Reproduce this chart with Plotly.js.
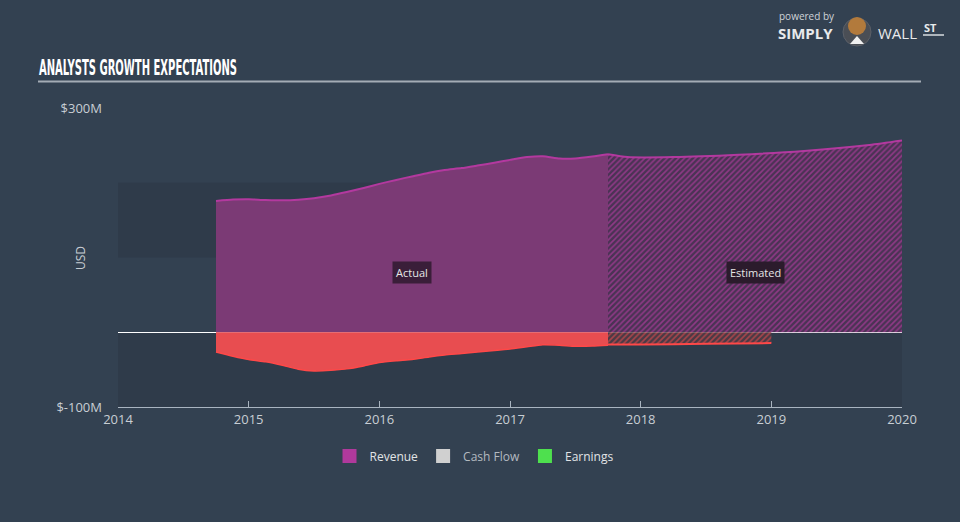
<!DOCTYPE html>
<html>
<head>
<meta charset="utf-8">
<script src="https://cdn.plot.ly/plotly-3.0.1.min.js"></script>
<style>
html,body{margin:0;padding:0;background:#334151;}
#chart{width:960px;height:522px;}
</style>
</head>
<body>
<div id="chart"></div>
<script>
// ---- data ----
var actualYears = [2014.75, 2014.88, 2015.0, 2015.13, 2015.25, 2015.38, 2015.5, 2015.63, 2015.75, 2015.88, 2016.0, 2016.13, 2016.25, 2016.38, 2016.5, 2016.63, 2016.75, 2016.88, 2017.0, 2017.13, 2017.25, 2017.38, 2017.5, 2017.63, 2017.75];
var revenueActual = [175.7, 177.5, 178, 176.8, 176.6, 177.4, 179.3, 183, 187.5, 193, 198.5, 203.8, 208.5, 213.5, 217, 219.6, 223, 226.8, 230.6, 234.3, 235.5, 232.4, 232.5, 235, 238];
var earningsActual = [-26.4, -32, -36.5, -39.5, -43.8, -49.5, -51.8, -51, -49, -45, -40.5, -38, -36.3, -33, -30.5, -28.5, -26.5, -24.5, -22.5, -19.5, -16.8, -17.4, -18.7, -18.5, -17.4];

var estRevenueYears = [2017.75, 2017.9, 2018.25, 2018.75, 2019.25, 2019.75, 2020.0];
var revenueEstimated = [238, 234.3, 234.3, 237.5, 242.5, 250.5, 256.5];
var estEarningsYears = [2017.75, 2018.0, 2018.5, 2019.0];
var earningsEstimated = [-16.5, -16.5, -15.5, -14.5];

var yearTicks = [2014, 2015, 2016, 2017, 2018, 2019, 2020];
var yTickVals = [300, -100];
var yTickText = ['$300M', '$-100M'];
var legendNames = ['Revenue', 'Cash Flow', 'Earnings'];
var legendColors = ['#b0399c', '#d0d0d0', '#4ee04e'];

// ---- layout geometry ----
var W = 960, H = 522;
var L = 118, R = 58, T = 108, B = 115;
var plotW = W - L - R, plotH = H - T - B;
function px(x){ return (x - L) / plotW; }
function py(y){ return (H - B - y) / plotH; }

var FONT = 'Open Sans, Lato, sans-serif';

var traces = [
  {x: actualYears, y: revenueActual, type: 'scatter', mode: 'lines', fill: 'tozeroy',
   fillcolor: '#7b3a75', line: {color: '#b3399f', width: 2, shape: 'spline', smoothing: 0.6},
   showlegend: false, hoverinfo: 'skip'},
  {x: estRevenueYears, y: revenueEstimated, type: 'scatter', mode: 'lines', fill: 'tozeroy',
   fillpattern: {shape: '/', bgcolor: '#4a3354', fgcolor: '#8f3986', size: 4, solidity: 0.4},
   line: {color: '#b3399f', width: 2, shape: 'spline', smoothing: 0.6},
   showlegend: false, hoverinfo: 'skip'},
  {x: actualYears, y: earningsActual, type: 'scatter', mode: 'lines', fill: 'tozeroy',
   fillcolor: '#e84d50', line: {color: '#ff4848', width: 1.5, shape: 'spline', smoothing: 0.6},
   showlegend: false, hoverinfo: 'skip'},
  {x: estEarningsYears, y: earningsEstimated, type: 'scatter', mode: 'lines', fill: 'tozeroy',
   fillpattern: {shape: '/', bgcolor: '#4a3a45', fgcolor: '#a8454b', size: 4, solidity: 0.4},
   line: {color: '#ff4848', width: 2, shape: 'spline', smoothing: 0.6},
   showlegend: false, hoverinfo: 'skip'}
];
legendNames.forEach(function(n, i){
  var label = n === 'Cash Flow' ? '<span style="color:#b4bac0">' + n + '</span>' : n;
  traces.push({x: [null], y: [null], type: 'scatter', mode: 'markers', name: label,
    marker: {symbol: 'square', size: 14, color: legendColors[i]}, showlegend: true, hoverinfo: 'skip'});
});

var layout = {
  width: W, height: H,
  margin: {l: L, r: R, t: T, b: B, pad: 0},
  paper_bgcolor: '#334151',
  plot_bgcolor: '#334151',
  font: {family: FONT, color: '#c8ced4', size: 12},
  showlegend: true,
  legend: {orientation: 'h', x: px(474), xanchor: 'center', y: py(456), yanchor: 'middle',
    font: {family: FONT, color: '#e2e4e6', size: 12}, bgcolor: 'rgba(0,0,0,0)', itemwidth: 30,
    tracegroupgap: 0},
  xaxis: {range: [2014, 2020], tickvals: yearTicks, ticktext: yearTicks.map(String),
    showgrid: false, zeroline: false, showline: true, linecolor: '#a9b4c0', linewidth: 1,
    ticks: 'inside', ticklen: 6, tickcolor: '#a9b4c0', tickfont: {color: '#c8ced4', size: 13}, fixedrange: true},
  yaxis: {range: [-100, 300], tickvals: yTickVals, ticktext: yTickText, showgrid: false,
    zeroline: true, zerolinecolor: '#ffffff', zerolinewidth: 1.5, showline: false, ticks: '',
    ticklabelstandoff: 15, tickfont: {color: '#c8ced4', size: 13}, fixedrange: true},
  shapes: [
    {type: 'rect', xref: 'paper', yref: 'y', x0: 0, x1: 1, y0: 100, y1: 200, fillcolor: '#2f3b4a', line: {width: 0}, layer: 'below'},
    {type: 'rect', xref: 'paper', yref: 'y', x0: 0, x1: 1, y0: -100, y1: 0, fillcolor: '#2f3b4a', line: {width: 0}, layer: 'below'},
    {type: 'line', xref: 'paper', yref: 'paper', x0: px(38), x1: px(921), y0: py(81.5), y1: py(81.5), line: {color: '#a4acb5', width: 2}},
    {type: 'circle', xref: 'paper', yref: 'paper', x0: px(843), x1: px(871), y0: py(46), y1: py(18), fillcolor: '#4a4e55', line: {color: '#5c6068', width: 1}},
    {type: 'circle', xref: 'paper', yref: 'paper', x0: px(848), x1: px(866), y0: py(35), y1: py(17), fillcolor: '#b27a3c', line: {width: 0}},
    {type: 'path', xref: 'paper', yref: 'paper', path: 'M ' + px(850) + ' ' + py(44) + ' L ' + px(857) + ' ' + py(36) + ' L ' + px(864) + ' ' + py(44) + ' Z', fillcolor: '#f0f0f0', line: {width: 0}},
    {type: 'line', xref: 'paper', yref: 'paper', x0: px(923), x1: px(944), y0: py(35), y1: py(35), line: {color: '#d8dce0', width: 1.5}}
  ],
  annotations: [
    {text: '<b>ANALYSTS GROWTH EXPECTATIONS</b>', xref: 'paper', yref: 'paper', x: px(37), y: py(68), xanchor: 'left', yanchor: 'middle', showarrow: false,
     font: {family: 'DejaVu Sans Condensed, Liberation Sans Narrow, Arial Narrow, sans-serif', size: 21, color: '#ffffff'}},
    {text: 'USD', xref: 'paper', yref: 'paper', x: px(80), y: py(258), textangle: -90, xanchor: 'center', yanchor: 'middle', showarrow: false,
     font: {family: FONT, size: 12, color: '#c8ced4'}},
    {text: 'Actual', x: 2016.25, y: 80, xref: 'x', yref: 'y', showarrow: false, bgcolor: '#3a1e39', borderpad: 3,
     font: {family: FONT, size: 11, color: '#e6e6e6'}},
    {text: 'Estimated', x: 2018.875, y: 80, xref: 'x', yref: 'y', showarrow: false, bgcolor: '#2b1b2c', borderpad: 3,
     font: {family: FONT, size: 11, color: '#e6e6e6'}},
    {text: 'powered by', xref: 'paper', yref: 'paper', x: px(777), y: py(16), xanchor: 'left', yanchor: 'middle', showarrow: false,
     font: {family: FONT, size: 10, color: '#cfd3d8'}},
    {text: '<b>SIMPLY</b>', xref: 'paper', yref: 'paper', x: px(776), y: py(33), xanchor: 'left', yanchor: 'middle', showarrow: false,
     font: {family: FONT, size: 15, color: '#e8eaec'}},
    {text: 'WALL', xref: 'paper', yref: 'paper', x: px(876), y: py(33), xanchor: 'left', yanchor: 'middle', showarrow: false,
     font: {family: FONT, size: 15, color: '#e8eaec'}},
    {text: '<b>ST</b>', xref: 'paper', yref: 'paper', x: px(922), y: py(28), xanchor: 'left', yanchor: 'middle', showarrow: false,
     font: {family: FONT, size: 11, color: '#e8eaec'}}
  ]
};

Plotly.newPlot('chart', traces, layout, {displayModeBar: false, staticPlot: true}).then(function(gd){
  // condense the heading to the reference width, keeping its left edge
  var t = gd.querySelector('.annotation .annotation-text');
  if (t) {
    var bb = t.getBBox();
    t.setAttribute('text-anchor', 'start');
    t.setAttribute('x', String(bb.x));
    t.setAttribute('textLength', '198');
    t.setAttribute('lengthAdjust', 'spacingAndGlyphs');
  }
});
</script>
</body>
</html>
